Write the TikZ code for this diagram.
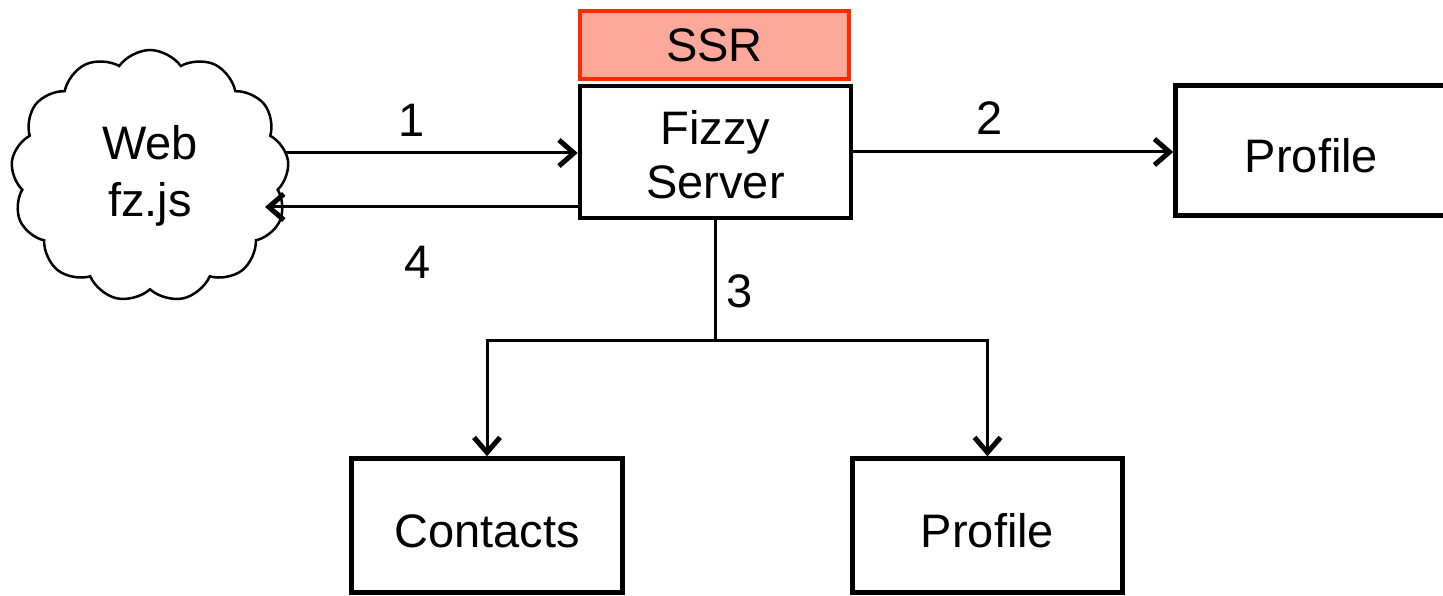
\documentclass[tikz,border=0pt]{standalone}
\usepackage{fontspec}
\setmainfont{Liberation Sans}
\usetikzlibrary{shapes.symbols,arrows.meta}
\definecolor{ssrfill}{HTML}{FCA99C}
\definecolor{ssrline}{HTML}{FF2A00}
\begin{document}
\begin{tikzpicture}[x=1pt,y=-1pt,
  txt/.style={font=\fontsize{47}{54}\selectfont},
  box/.style={txt, draw, line width=4.5pt, inner sep=0pt, align=center},
  onel/.style={text height=44pt, text depth=0pt},
  conn/.style={line width=3pt, -{Straight Barb[length=15pt,width=26pt,line width=5pt]}},
  plain/.style={line width=3pt},
  lbl/.style={txt, inner sep=0pt}]
\useasboundingbox (0,0) rectangle (1443,596);
% nodes
\node[box, draw=ssrline, fill=ssrfill, line width=4pt, minimum width=269pt, minimum height=68pt] (ssr) at (714.5,45) {SSR};
\node[box, minimum width=271pt, minimum height=132pt, font=\fontsize{47}{54}\selectfont] (fizzy) at (715.5,152) {\raisebox{-9pt}[\height][\depth]{\begin{tabular}{@{}c@{}}Fizzy\\Server\end{tabular}}};
\node[box, onel, minimum width=272pt, minimum height=130pt] (prof1) at (1311.5,150.5) {Profile};
\node[box, onel, minimum width=271pt, minimum height=134pt] (contacts) at (487,525.5) {Contacts};
\node[box, onel, minimum width=270pt, minimum height=134pt] (prof2) at (987.5,525.5) {Profile};
\node[cloud, draw, line width=2.5pt, cloud puffs=13, cloud puff arc=110, aspect=1.05, minimum width=278pt, minimum height=252pt, align=center, txt, font=\fontsize{47}{57}\selectfont] (cloud) at (150,176) {Web\\fz.js};
% connector ends
\coordinate (c1) at (285,153);
\coordinate (c4) at (265,207);
\coordinate (j) at (715.5,340);
% connectors
\draw[conn] (c1) -- (c1 -| fizzy.west);
\draw[conn] (fizzy.west |- c4) -- (c4);
\draw[conn] (fizzy.east) -- (fizzy.east -| prof1.west);
\draw[plain] (fizzy.south) -- (j);
\draw[conn] (j) -| (contacts.north);
\draw[conn] (j) -| (prof2.north);
% labels
\node[lbl] (l1) at (412,120) {1};
\node[lbl] (l2) at (990,118) {2};
\node[lbl] (l3) at (740,291) {3};
\node[lbl] (l4) at (418,262) {4};
\end{tikzpicture}
\end{document}
